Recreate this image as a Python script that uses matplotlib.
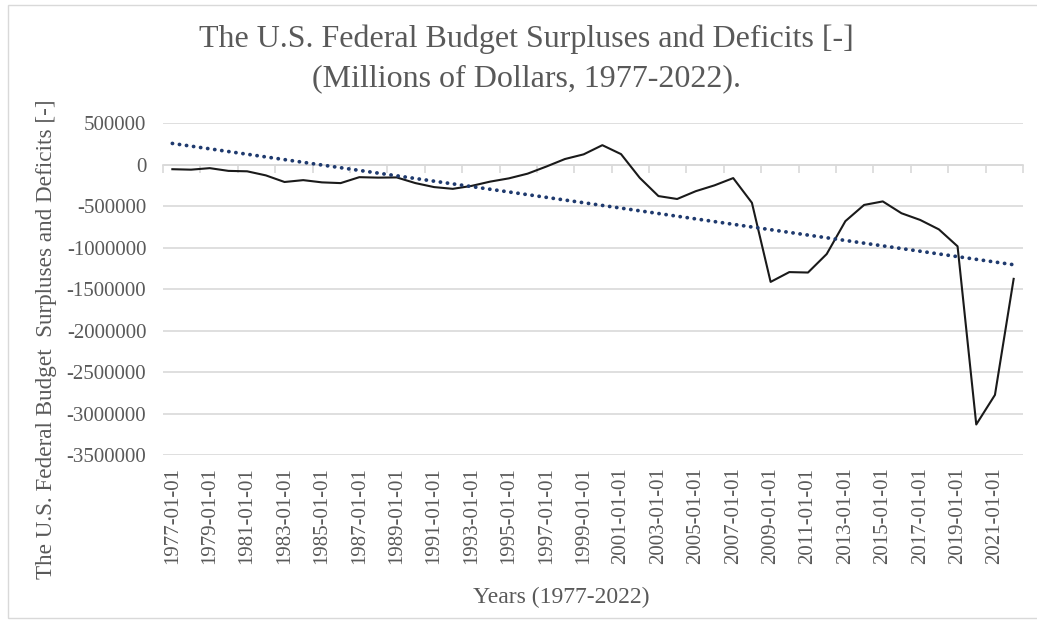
import numpy as np
import matplotlib
matplotlib.use("Agg")
import matplotlib.pyplot as plt
from matplotlib.patches import Rectangle

# U.S. federal surplus (+) / deficit (-), millions of dollars, fiscal years 1977-2022
years = list(range(1977, 2023))
balance = [
    -53659, -59185, -40726, -73830, -78968, -127977, -207802, -185367,
    -212308, -221227, -149730, -155178, -152639, -221036, -269238, -290321,
    -255051, -203186, -163952, -107431, -21884, 69270, 125610, 236241,
    128236, -157758, -377585, -412727, -318346, -248181, -160701, -458553,
    -1412688, -1294373, -1299599, -1076573, -679775, -484602, -441960, -584651,
    -665446, -779137, -983588, -3131917, -2775306, -1375904,
]
date_labels = [f"{y}-01-01" for y in years]
y_ticks = list(range(-3500000, 500001, 500000))

title_line1 = "The U.S. Federal Budget Surpluses and Deficits [-]"
title_line2 = "(Millions of Dollars, 1977-2022)."
x_title = "Years (1977-2022)"
y_title = "The U.S. Federal Budget  Surpluses and Deficits [-]"

TEXT = "#595959"
GRID = "#d9d9d9"
plt.rcParams["font.family"] = ["Liberation Serif", "DejaVu Serif"]

W, H = 1037, 623
fig = plt.figure(figsize=(W / 100, H / 100), dpi=100)
fig.patch.set_facecolor("white")

# chart-area frame
fig.add_artist(Rectangle((8 / W, 1 - 618 / H), (1040 - 8) / W, (618 - 5) / H,
                         transform=fig.transFigure, fill=False,
                         edgecolor="#d9d9d9", linewidth=1.0))

left, right, top, bottom = 163, 1023, 123.3, 455
ax = fig.add_axes([left / W, 1 - bottom / H, (right - left) / W, (bottom - top) / H])

x = np.arange(len(years))
ax.plot(x, balance, color="#1a1a1a", linewidth=1.5, zorder=3)

# linear trend line
coef = np.polyfit(x, balance, 1)
ax.plot(x, np.polyval(coef, x), color="#1f3a6e", linewidth=2.7,
        linestyle=(0, (0.05, 1.85)), dash_capstyle="round", zorder=4)

ax.set_xlim(-0.5, len(years) - 0.5)
ax.set_ylim(min(y_ticks), max(y_ticks))
ax.set_yticks(y_ticks)
ax.set_yticklabels([str(v) for v in y_ticks])
ax.yaxis.grid(True, color=GRID, linewidth=1.2)
ax.set_axisbelow(True)
ax.tick_params(axis="y", length=0, pad=12, labelsize=15, labelcolor=TEXT)

for s in ("top", "right", "left"):
    ax.spines[s].set_visible(False)
ax.spines["bottom"].set_position(("data", 0))
ax.spines["bottom"].set_color(GRID)
ax.spines["bottom"].set_linewidth(1.2)
ax.set_xticks(np.arange(-0.5, len(years), 2))
ax.tick_params(axis="x", direction="out", length=6, width=1.2, color=GRID,
               labelbottom=False)

# category labels along the bottom of the plot area
sec = ax.secondary_xaxis(0.0)
sec.set_xticks(x[::2])
sec.set_xticklabels(date_labels[::2], rotation=90)
sec.tick_params(length=0, pad=9, labelsize=15, labelcolor=TEXT)
sec.spines["bottom"].set_visible(False)

fig.text(561 / W, 1 - 597 / H, x_title, ha="center", va="center",
         fontsize=17, color=TEXT)
fig.text(47 / W, 1 - 339 / H, y_title, rotation=90, ha="center", va="center",
         fontsize=16.7, color=TEXT)

fig.text(526 / W, 1 - 39 / H, title_line1, ha="center", va="center",
         fontsize=23, color=TEXT)
fig.text(526 / W, 1 - 79 / H, title_line2, ha="center", va="center",
         fontsize=23, color=TEXT)

fig.savefig("out.png", dpi=100, facecolor="white")
